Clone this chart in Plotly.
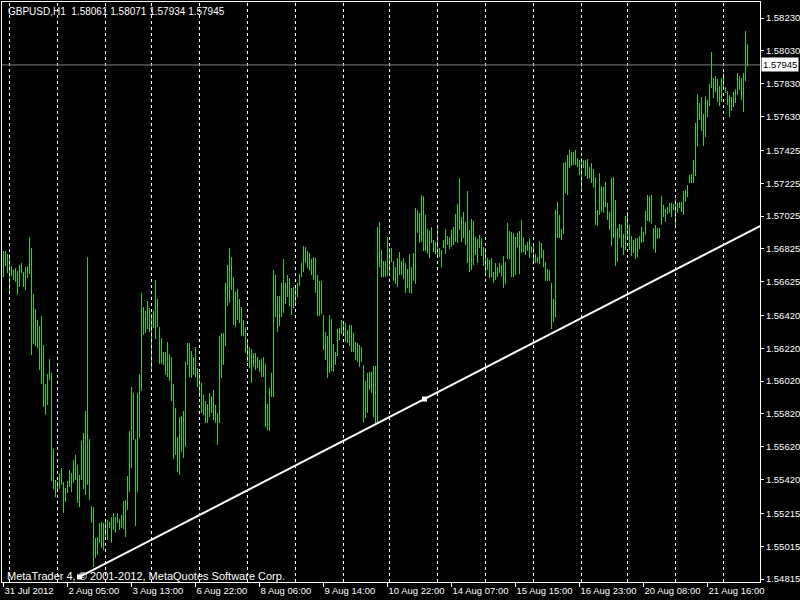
import plotly.graph_objects as go

symbol_title = "GBPUSD,H1  1.58061 1.58071 1.57934 1.57945"
copyright_text = "MetaTrader 4, \u00a9 2001-2012, MetaQuotes Software Corp."

highs = [
    1.56812, 1.56812, 1.56794, 1.56794, 1.56720, 1.56696, 1.56708, 1.56690, 1.56727, 1.56739,
    1.56684, 1.56714, 1.56720, 1.56897, 1.56830, 1.56551, 1.56459, 1.56392, 1.56355, 1.56416,
    1.56240, 1.56003, 1.56064, 1.56154, 1.56070, 1.55607, 1.55418, 1.55412, 1.55455, 1.55491,
    1.55406, 1.55369, 1.55412, 1.55479, 1.55461, 1.55540, 1.55571, 1.55510, 1.55449, 1.55656,
    1.55704, 1.55838, 1.56775, 1.55667, 1.55259, 1.55253, 1.55065, 1.55071, 1.55157, 1.55163,
    1.55157, 1.55163, 1.55175, 1.55163, 1.55192, 1.55217, 1.55192, 1.55217, 1.55180, 1.55205,
    1.55290, 1.55296, 1.55442, 1.55716, 1.55984, 1.55948, 1.55667, 1.55948, 1.56064, 1.56557,
    1.56471, 1.56447, 1.56508, 1.56465, 1.56429, 1.56447, 1.56636, 1.56520, 1.56349, 1.56282,
    1.56197, 1.56197, 1.56258, 1.56185, 1.56166, 1.56003, 1.55856, 1.55679, 1.55801, 1.55807,
    1.55838, 1.56137, 1.56252, 1.56252, 1.56203, 1.56166, 1.56227, 1.56100, 1.56070, 1.56009,
    1.55936, 1.55899, 1.55881, 1.55948, 1.55929, 1.55966, 1.55875, 1.55826, 1.56294, 1.56313,
    1.56313, 1.56618, 1.56727, 1.56830, 1.56775, 1.56653, 1.56563, 1.56581, 1.56520, 1.56471,
    1.56392, 1.56349, 1.56270, 1.56227, 1.56215, 1.56191, 1.56191, 1.56166, 1.56149, 1.56154,
    1.56166, 1.56125, 1.55881, 1.55978, 1.56070, 1.56696, 1.56666, 1.56538, 1.56538, 1.56618,
    1.56763, 1.56618, 1.56666, 1.56647, 1.56587, 1.56593, 1.56599, 1.56618, 1.56672, 1.56739,
    1.56842, 1.56836, 1.56812, 1.56800, 1.56763, 1.56775, 1.56769, 1.56666, 1.56630, 1.56630,
    1.56423, 1.56319, 1.56294, 1.56423, 1.56398, 1.56246, 1.56197, 1.56337, 1.56343, 1.56392,
    1.56374, 1.56374, 1.56331, 1.56362, 1.56362, 1.56313, 1.56258, 1.56252, 1.56240, 1.56227,
    1.56119, 1.56021, 1.56070, 1.56076, 1.56076, 1.56112, 1.56112, 1.56958, 1.56989, 1.56818,
    1.56751, 1.56751, 1.56897, 1.56830, 1.56830, 1.56751, 1.56714, 1.56769, 1.56806, 1.56751,
    1.56769, 1.56739, 1.56702, 1.56794, 1.56714, 1.56800, 1.57074, 1.57062, 1.57044, 1.57153,
    1.57146, 1.57032, 1.56946, 1.56934, 1.56958, 1.56879, 1.56867, 1.56958, 1.56830, 1.56818,
    1.56879, 1.56946, 1.56903, 1.56897, 1.56940, 1.56958, 1.57038, 1.57099, 1.57256, 1.57019,
    1.57050, 1.56989, 1.57177, 1.56940, 1.57007, 1.56995, 1.56897, 1.56885, 1.56910, 1.56891,
    1.56836, 1.56830, 1.56769, 1.56757, 1.56769, 1.56684, 1.56739, 1.56714, 1.56739, 1.56727,
    1.56781, 1.56745, 1.56983, 1.56934, 1.56928, 1.56922, 1.56897, 1.56922, 1.56934, 1.57001,
    1.56897, 1.56849, 1.56867, 1.56891, 1.56842, 1.56842, 1.56794, 1.56775, 1.56873, 1.56861,
    1.56818, 1.56745, 1.56702, 1.56696, 1.56618, 1.56520, 1.57062, 1.57111, 1.57032, 1.56946,
    1.57348, 1.57354, 1.57397, 1.57427, 1.57415, 1.57415, 1.57427, 1.57378, 1.57366, 1.57378,
    1.57366, 1.57366, 1.57372, 1.57323, 1.57348, 1.57311, 1.57262, 1.57062, 1.57287, 1.57207,
    1.57201, 1.57232, 1.57105, 1.57050, 1.57256, 1.57262, 1.57123, 1.56952, 1.56977, 1.56971,
    1.56916, 1.57025, 1.57050, 1.56971, 1.56903, 1.56879, 1.56891, 1.56891, 1.56903, 1.56958,
    1.56928, 1.57056, 1.57153, 1.57146, 1.57153, 1.56952, 1.56971, 1.56952, 1.56952, 1.57146,
    1.57093, 1.57068, 1.57080, 1.57105, 1.57105, 1.57099, 1.57128, 1.57105, 1.57111, 1.57111,
    1.57177, 1.57183, 1.57214, 1.57275, 1.57281, 1.57366, 1.57592, 1.57768, 1.57713, 1.57749,
    1.57646, 1.57755, 1.57731, 1.57829, 1.58024, 1.57865, 1.57877, 1.57859, 1.57816, 1.57865,
    1.57896, 1.57810, 1.57786, 1.57762, 1.57749, 1.57780, 1.57798, 1.57896, 1.57877, 1.57865,
    1.57896, 1.58151, 1.58071,
]

lows = [
    1.56653, 1.56720, 1.56678, 1.56557, 1.56659, 1.56636, 1.56624, 1.56545, 1.56593, 1.56678,
    1.56593, 1.56575, 1.56647, 1.56672, 1.56179, 1.56246, 1.56233, 1.56221, 1.56088, 1.56003,
    1.55862, 1.55814, 1.55875, 1.56027, 1.55412, 1.55363, 1.55314, 1.55357, 1.55363, 1.55388,
    1.55217, 1.55284, 1.55339, 1.55375, 1.55345, 1.55400, 1.55418, 1.55278, 1.55253, 1.55418,
    1.55363, 1.55327, 1.55388, 1.55296, 1.55157, 1.54888, 1.54943, 1.54962, 1.55035, 1.55004,
    1.54992, 1.55065, 1.55053, 1.55126, 1.55035, 1.55114, 1.55096, 1.55157, 1.55114, 1.55126,
    1.55120, 1.55071, 1.55235, 1.55345, 1.55491, 1.55662, 1.55138, 1.55345, 1.55673, 1.55960,
    1.56301, 1.56313, 1.56337, 1.56319, 1.56082, 1.56343, 1.56276, 1.56349, 1.56125, 1.56125,
    1.56119, 1.56058, 1.56045, 1.56021, 1.55899, 1.55546, 1.55571, 1.55467, 1.55449, 1.55589,
    1.55552, 1.55619, 1.56119, 1.56045, 1.56039, 1.56058, 1.56045, 1.55984, 1.55923, 1.55826,
    1.55814, 1.55765, 1.55765, 1.55801, 1.55826, 1.55783, 1.55765, 1.55632, 1.55765, 1.56039,
    1.56119, 1.56233, 1.56477, 1.56496, 1.56575, 1.56362, 1.56349, 1.56392, 1.56374, 1.56294,
    1.56294, 1.56191, 1.56137, 1.56100, 1.56009, 1.56106, 1.56088, 1.56100, 1.56076, 1.56045,
    1.56045, 1.55740, 1.55722, 1.55716, 1.55923, 1.55923, 1.56410, 1.56319, 1.56355, 1.56410,
    1.56435, 1.56490, 1.56532, 1.56477, 1.56423, 1.56465, 1.56490, 1.56532, 1.56599, 1.56653,
    1.56684, 1.56739, 1.56708, 1.56696, 1.56666, 1.56636, 1.56557, 1.56416, 1.56416, 1.56429,
    1.56209, 1.56149, 1.56039, 1.56070, 1.56082, 1.56076, 1.56119, 1.56172, 1.56270, 1.56307,
    1.56313, 1.56258, 1.56252, 1.56233, 1.56197, 1.56197, 1.56149, 1.56137, 1.56106, 1.56137,
    1.55765, 1.55795, 1.55826, 1.55966, 1.55948, 1.55801, 1.55765, 1.55765, 1.56714, 1.56653,
    1.56653, 1.56653, 1.56659, 1.56672, 1.56745, 1.56630, 1.56612, 1.56593, 1.56666, 1.56666,
    1.56641, 1.56557, 1.56587, 1.56557, 1.56551, 1.56630, 1.56612, 1.56922, 1.56861, 1.56867,
    1.56812, 1.56812, 1.56794, 1.56769, 1.56861, 1.56806, 1.56794, 1.56781, 1.56775, 1.56714,
    1.56830, 1.56794, 1.56849, 1.56824, 1.56836, 1.56849, 1.56867, 1.56861, 1.56940, 1.56867,
    1.56891, 1.56849, 1.56739, 1.56684, 1.56696, 1.56727, 1.56788, 1.56739, 1.56830, 1.56781,
    1.56720, 1.56672, 1.56696, 1.56647, 1.56653, 1.56618, 1.56636, 1.56653, 1.56678, 1.56659,
    1.56587, 1.56612, 1.56763, 1.56763, 1.56653, 1.56653, 1.56666, 1.56836, 1.56672, 1.56800,
    1.56806, 1.56788, 1.56812, 1.56769, 1.56800, 1.56739, 1.56739, 1.56739, 1.56733, 1.56769,
    1.56714, 1.56630, 1.56630, 1.56630, 1.56337, 1.56380, 1.56410, 1.56891, 1.56891, 1.56879,
    1.56916, 1.57165, 1.57153, 1.57317, 1.57329, 1.57336, 1.57336, 1.57323, 1.57275, 1.57183,
    1.57317, 1.57268, 1.57250, 1.57256, 1.57226, 1.57201, 1.56971, 1.56964, 1.57032, 1.57050,
    1.57044, 1.57080, 1.57001, 1.56940, 1.56842, 1.56891, 1.56720, 1.56745, 1.56891, 1.56836,
    1.56788, 1.56818, 1.56879, 1.56818, 1.56781, 1.56800, 1.56763, 1.56775, 1.56824, 1.56861,
    1.56867, 1.56910, 1.56995, 1.56989, 1.56977, 1.56824, 1.56800, 1.56885, 1.56891, 1.56971,
    1.57019, 1.56989, 1.57038, 1.57044, 1.57019, 1.57062, 1.56958, 1.57044, 1.57074, 1.57050,
    1.57032, 1.57111, 1.57140, 1.57226, 1.57226, 1.57226, 1.57268, 1.57451, 1.57610, 1.57543,
    1.57451, 1.57506, 1.57627, 1.57694, 1.57804, 1.57743, 1.57780, 1.57719, 1.57694, 1.57719,
    1.57792, 1.57774, 1.57701, 1.57627, 1.57664, 1.57688, 1.57713, 1.57762, 1.57792, 1.57731,
    1.57658, 1.57847, 1.57934,
]

bid_price = 1.57945
bid_label = "1.57945"

price_ticks = [1.58230, 1.58030, 1.57830, 1.57630, 1.57425, 1.57225, 1.57025, 1.56825, 1.56625,
               1.56420, 1.56220, 1.56020, 1.55820, 1.55620, 1.55420, 1.55215, 1.55015, 1.54815]
price_tick_labels = ["1.58230", "1.58030", "1.57830", "1.57630", "1.57425", "1.57225", "1.57025",
                     "1.56825", "1.56625", "1.56420", "1.56220", "1.56020", "1.55820", "1.55620",
                     "1.55420", "1.55215", "1.55015", "1.54815"]

time_tick_bars = [0, 32, 64, 96, 128, 160, 192, 224, 256, 288, 320, 352]
time_tick_labels = ["31 Jul 2012", "2 Aug 05:00", "3 Aug 13:00", "6 Aug 22:00", "8 Aug 06:00",
                    "9 Aug 14:00", "10 Aug 22:00", "14 Aug 07:00", "15 Aug 15:00",
                    "16 Aug 23:00", "20 Aug 08:00", "21 Aug 16:00"]

grid_bars = [3, 27, 51, 74, 98, 122, 146, 170, 193, 217, 241, 265, 289, 312, 336, 360]

trend_bars = [38, 210.5, 383]
trend_prices = [1.54828, 1.55911, 1.56994]

# ---- build bar segments ----
bx, by = [], []
for i, (h, l) in enumerate(zip(highs, lows)):
    bx += [i, i, None]
    by += [l, h, None]

fig = go.Figure()
fig.add_trace(go.Scatter(x=bx, y=by, mode="lines",
                         line=dict(color="#32CD32", width=1),
                         hoverinfo="skip", connectgaps=False))
fig.add_trace(go.Scatter(x=trend_bars, y=trend_prices, mode="lines",
                         line=dict(color="white", width=2), hoverinfo="skip"))
fig.add_trace(go.Scatter(x=trend_bars[:2], y=trend_prices[:2], mode="markers",
                         marker=dict(symbol="square", size=5, color="white"),
                         hoverinfo="skip"))

shapes = []
for g in grid_bars:
    shapes.append(dict(type="line", xref="x", yref="paper", x0=g, x1=g, y0=0, y1=1,
                       line=dict(color="white", width=1, dash="3px,3px"), layer="above"))
shapes.append(dict(type="line", xref="paper", yref="y", x0=0, x1=1, y0=bid_price, y1=bid_price,
                   line=dict(color="#808080", width=1), layer="above"))

annotations = [
    dict(text=symbol_title, xref="paper", yref="paper", x=0, y=1, xanchor="left",
         yanchor="middle", xshift=4, yshift=-9, showarrow=False,
         font=dict(family="Liberation Sans", size=10, color="white")),
    dict(text=copyright_text, xref="paper", yref="paper", x=0, y=0, xanchor="left",
         yanchor="middle", xshift=3, yshift=6, showarrow=False,
         font=dict(family="Liberation Sans", size=11, color="white")),
    dict(text=bid_label, xref="paper", yref="y", x=1, y=bid_price, xanchor="left",
         yanchor="middle", xshift=1, showarrow=False, bgcolor="white", borderpad=1,
         font=dict(family="Liberation Sans", size=9.5, color="black")),
]

fig.update_layout(
    width=800, height=600,
    margin=dict(l=2, r=40, t=2, b=18, autoexpand=False),
    paper_bgcolor="black", plot_bgcolor="black",
    showlegend=False, hovermode=False, dragmode=False,
    font=dict(family="Liberation Sans", size=9.5, color="white"),
    shapes=shapes, annotations=annotations,
    xaxis=dict(range=[-0.75, 378.25], showgrid=False, zeroline=False,
               showline=True, mirror=True, linecolor="white", linewidth=1,
               tickmode="array", tickvals=time_tick_bars, ticktext=time_tick_labels,
               ticks="outside", ticklen=4, tickcolor="white", tickangle=0,
               ticklabelposition="outside right", automargin=False,
               tickfont=dict(family="Liberation Sans", size=9.5, color="white")),
    yaxis=dict(range=[1.54797, 1.58328], side="right", showgrid=False, zeroline=False,
               showline=True, mirror=True, linecolor="white", linewidth=1,
               tickmode="array", tickvals=price_ticks, ticktext=price_tick_labels,
               ticks="outside", ticklen=3, tickcolor="white", automargin=False,
               tickfont=dict(family="Liberation Sans", size=9.5, color="white")),
)

fig.write_html(
    "out.html",
    config={"displayModeBar": False, "staticPlot": True},
    post_script="document.body.style.margin='0';document.body.style.overflow='hidden';",
)
